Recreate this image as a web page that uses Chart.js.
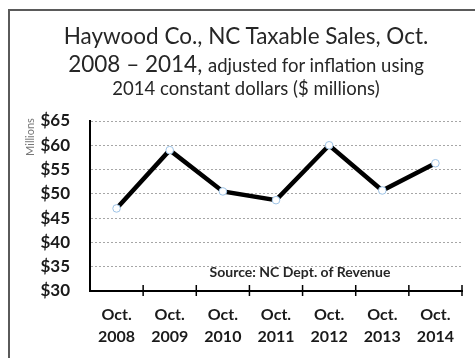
<!DOCTYPE html>
<html>
<head>
<meta charset="utf-8">
<script src="https://cdn.jsdelivr.net/npm/chart.js@4"></script>
<style>
  html, body { margin: 0; padding: 0; background: #fff; }
  #wrap { position: relative; width: 475px; height: 358px; overflow: hidden; font-family: Lato, "Open Sans", sans-serif; }
  #frame { position: absolute; left: 8px; top: 9px; right: -10px; bottom: -10px; border-left: 2px solid #5a5a5a; border-top: 2px solid #5a5a5a; }
  canvas { position: absolute; left: 0; top: 0; }
  .t { position: absolute; left: 0; width: 492px; text-align: center; color: #262626; white-space: nowrap; }
  #l1 { top: 25px; font-size: 22.5px; line-height: 22.5px; }
  #l2 { top: 53px; font-size: 22.5px; line-height: 22.5px; }
  #l2 span { font-size: 18.5px; }
  #l3 { top: 78.5px; font-size: 18.5px; line-height: 18.5px; }
  #src { position: absolute; left: 300px; top: 265px; transform: translateX(-50%); font-size: 14px; line-height: 14px; font-weight: bold; color: #262626; white-space: nowrap; }
  #mil { position: absolute; left: 29px; top: 136.5px; transform: translate(-50%, -50%) rotate(-90deg); font-size: 11px; line-height: 11px; color: #777; white-space: nowrap; }
</style>
</head>
<body>
<div id="wrap">
  <canvas id="c" width="475" height="358"></canvas>
  <div id="frame"></div>
  <div class="t" id="l1">Haywood Co., NC Taxable Sales, Oct.</div>
  <div class="t" id="l2">2008 – 2014, <span>adjusted for inflation using</span></div>
  <div class="t" id="l3">2014 constant dollars ($ millions)</div>
  <div id="src">Source: NC Dept. of Revenue</div>
  <div id="mil">Millions</div>
</div>
<script>
const categories = [["Oct.", "2008"], ["Oct.", "2009"], ["Oct.", "2010"], ["Oct.", "2011"], ["Oct.", "2012"], ["Oct.", "2013"], ["Oct.", "2014"]];
const salesMillions = [47.0, 59.0, 50.5, 48.7, 60.0, 50.7, 56.3];
const yMin = 30, yMax = 65, yStep = 5;

const crossTicks = {
  id: 'crossTicks',
  afterDraw(chart) {
    const xs = chart.scales.x, ctx = chart.ctx;
    const y0 = chart.chartArea.bottom;
    const n = categories.length;
    const w = (xs.getPixelForValue(1) - xs.getPixelForValue(0));
    ctx.save();
    ctx.strokeStyle = '#000';
    ctx.lineWidth = 1.5;
    for (let i = 0; i < n; i++) {
      const x = xs.getPixelForValue(i) + w / 2;
      ctx.beginPath();
      ctx.moveTo(x, y0 - 6);
      ctx.lineTo(x, y0 + 5);
      ctx.stroke();
    }
    ctx.restore();
  }
};

new Chart(document.getElementById('c'), {
  type: 'line',
  data: {
    labels: categories,
    datasets: [{
      data: salesMillions,
      borderColor: '#000',
      borderWidth: 4.5,
      pointRadius: 3.8,
      pointBackgroundColor: '#fff',
      pointBorderColor: '#9dc3e6',
      pointBorderWidth: 1,
      tension: 0,
      fill: false
    }]
  },
  options: {
    responsive: false,
    animation: false,
    devicePixelRatio: 1,
    layout: { padding: { top: 121, right: 13, bottom: 0, left: 0 } },
    plugins: { legend: { display: false }, title: { display: false }, tooltip: { enabled: false } },
    scales: {
      x: {
        type: 'category',
        offset: true,
        afterFit(s) { s.height = 67; },
        grid: { display: false, drawOnChartArea: false, drawTicks: false },
        border: { display: true, color: '#000', width: 2 },
        ticks: {
          padding: 13,
          color: '#1a1a1a',
          maxRotation: 0,
          autoSkip: false,
          font: { family: 'Lato', weight: 'bold', size: 16, lineHeight: 1.35 }
        }
      },
      y: {
        min: yMin,
        max: yMax,
        afterFit(s) { s.width = 90; },
        grid: {
          drawTicks: false,
          color: (ctx) => ctx.tick && ctx.tick.value === yMin ? 'rgba(0,0,0,0)' : '#a6a6a6',
          lineWidth: 1
        },
        border: { display: true, color: '#000', width: 2, dash: [2, 2] },
        ticks: {
          stepSize: yStep,
          padding: 20,
          color: '#1a1a1a',
          font: { family: 'Lato', weight: 'bold', size: 17 },
          callback: (v) => '$' + v
        }
      }
    }
  },
  plugins: [crossTicks]
});
</script>
</body>
</html>
